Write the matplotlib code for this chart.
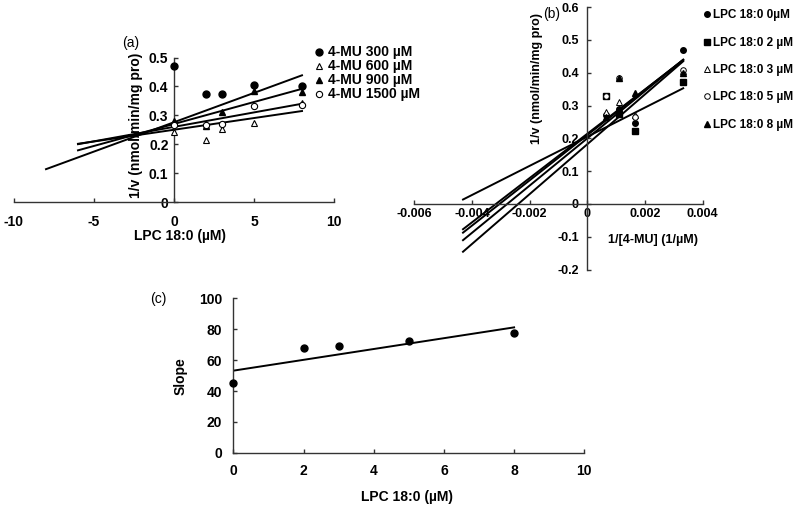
import numpy as np
import matplotlib
matplotlib.use("Agg")
import matplotlib.pyplot as plt
from matplotlib.lines import Line2D
from matplotlib.ticker import FuncFormatter

plt.rcParams['font.family'] = ['Liberation Sans', 'DejaVu Sans']
plt.rcParams['axes.unicode_minus'] = False

# ------------------------------------------------------
# Data
# (a) 1/v vs LPC 18:0 for each 4-MU concentration
lpc = [0, 2, 3, 5, 8]
mu_labels = ['4-MU 300 µM', '4-MU 600 µM', '4-MU 900 µM', '4-MU 1500 µM']
v_mu300 = [0.47, 0.372, 0.374, 0.406, 0.401]
v_mu600 = [0.242, 0.216, 0.254, 0.274, 0.342]
v_mu900 = [0.28, 0.262, 0.311, 0.383, 0.38]
v_mu1500 = [0.265, 0.265, 0.27, 0.332, 0.335]
fit_a_start = [-8, -6, -6, -6]
fit_a_end = [8, 8, 8, 8]
fit_a_slope = [0.0203, 0.0081, 0.0152, 0.0100]
fit_a_icpt = [0.276, 0.250, 0.270, 0.260]

# (b) Lineweaver-Burk, one series per LPC 18:0 concentration
mu_conc = [1500, 900, 600, 300]
lpc_labels = ['LPC 18:0 0µM', 'LPC 18:0 2 µM', 'LPC 18:0 3 µM',
              'LPC 18:0 5 µM', 'LPC 18:0 8 µM']
v_lpc0 = [0.27, 0.29, 0.248, 0.47]
v_lpc2 = [0.33, 0.275, 0.223, 0.373]
v_lpc3 = [0.28, 0.312, 0.271, 0.405]
v_lpc5 = [0.33, 0.385, 0.265, 0.41]
v_lpc8 = [0.266, 0.385, 0.338, 0.40]
fit_b_start = -0.00431
fit_b_end = 0.00333
fit_b_slope = [44.4, 67.5, 69.0, 72.0, 76.0]
fit_b_icpt = [0.205, 0.214, 0.210, 0.200, 0.182]

# (c) slope replot
slope_vals = [45.4, 68.1, 69.4, 72.4, 77.8]
fit_c_slope = 3.51
fit_c_icpt = 53.2

# ------------------------------------------------------
fig = plt.figure(figsize=(8, 5.08), dpi=100)
W, H = 800.0, 508.0


def box(x0, x1, y0, y1):
    # pixel box -> figure fraction
    return [x0 / W, 1 - y1 / H, (x1 - x0) / W, (y1 - y0) / H]


def style(ax, fs=10, padx=8, pady=4):
    for s in ['top', 'right']:
        ax.spines[s].set_visible(False)
    for s in ['left', 'bottom']:
        ax.spines[s].set_color('#333333')
        ax.spines[s].set_linewidth(1.0)
    ax.tick_params(direction='in', length=3, width=1, color='#333333')
    ax.tick_params(axis='x', pad=padx, labelsize=fs)
    ax.tick_params(axis='y', pad=pady, labelsize=fs)
    for t in ax.get_xticklabels() + ax.get_yticklabels():
        t.set_fontweight('bold')
    ax.patch.set_alpha(0)


fmt = FuncFormatter(lambda v, p: '0' if abs(v) < 1e-12 else f'{v:g}')

mk_a = [dict(marker='o', mfc='black', mec='black', ms=5),
        dict(marker='^', mfc='white', mec='black', ms=5, mew=0.8),
        dict(marker='^', mfc='black', mec='black', ms=5),
        dict(marker='o', mfc='white', mec='black', ms=4.5, mew=0.8)]

# ---------------- (a)
ax1 = fig.add_axes(box(14, 334, 57.5, 202))
ax1.set_xlim(-10, 10)
ax1.set_ylim(0, 0.5)
ax1.spines['left'].set_position(('data', 0))
ax1.spines['bottom'].set_position(('data', 0))
ax1.set_xticks([-10, -5, 0, 5, 10])
ax1.set_yticks([0, 0.1, 0.2, 0.3, 0.4, 0.5])
ax1.xaxis.set_major_formatter(fmt)
ax1.yaxis.set_major_formatter(fmt)
series_a = [v_mu300, v_mu600, v_mu900, v_mu1500]
for i, ys in enumerate(series_a):
    xf = np.array([fit_a_start[i], fit_a_end[i]])
    ax1.plot(xf, fit_a_icpt[i] + fit_a_slope[i] * xf, color='black', lw=1.4, zorder=2)
for i, ys in enumerate(series_a):
    ax1.plot(lpc, ys, ls='none', zorder=3, clip_on=False, **mk_a[i])
style(ax1, fs=10, padx=9, pady=4)
handles = [Line2D([], [], ls='none', **m) for m in mk_a]
fig.legend(handles, mu_labels, loc='upper left', bbox_to_anchor=(308 / W, 1 - 38.5 / H),
           frameon=False, handlelength=0.6, handletextpad=0.35, labelspacing=0.0,
           borderpad=0, prop=dict(size=10, weight='bold'))
fig.text(131 / W, 1 - 43 / H, '(a)', fontsize=10, ha='center', va='center')
fig.text(136 / W, 1 - 125 / H, '1/v (nmol/min/mg pro)', rotation=90, fontsize=10,
         fontweight='bold', ha='center', va='center')
fig.text(180 / W, 1 - 236 / H, 'LPC 18:0 (µM)', fontsize=10, fontweight='bold',
         ha='center', va='center')

# ---------------- (b)
mk_b = [dict(marker='o', mfc='black', mec='black', ms=4),
        dict(marker='s', mfc='black', mec='black', ms=4),
        dict(marker='^', mfc='white', mec='black', ms=4.5, mew=0.7),
        dict(marker='o', mfc='white', mec='black', ms=4, mew=0.7),
        dict(marker='^', mfc='black', mec='black', ms=4.5)]
ax2 = fig.add_axes(box(414.3, 702.5, 7.2, 269.6))
ax2.set_xlim(-0.006, 0.004)
ax2.set_ylim(-0.2, 0.6)
ax2.spines['left'].set_position(('data', 0))
ax2.spines['bottom'].set_position(('data', 0))
ax2.set_xticks([-0.006, -0.004, -0.002, 0, 0.002, 0.004])
ax2.set_yticks(np.round(np.arange(-0.2, 0.61, 0.1), 1))
ax2.xaxis.set_major_formatter(fmt)
ax2.yaxis.set_major_formatter(fmt)
inv_mu = 1.0 / np.array(mu_conc)
series_b = [v_lpc0, v_lpc2, v_lpc3, v_lpc5, v_lpc8]
xf = np.array([fit_b_start, fit_b_end])
for i in range(len(series_b)):
    ax2.plot(xf, fit_b_icpt[i] + fit_b_slope[i] * xf, color='black', lw=1.4, zorder=2)
for i, ys in enumerate(series_b):
    ax2.plot(inv_mu, ys, ls='none', zorder=3, **mk_b[i])
style(ax2, fs=9, padx=3, pady=6)
handles = [Line2D([], [], ls='none', **m) for m in mk_b]
fig.legend(handles, lpc_labels, loc='upper left', bbox_to_anchor=(698 / W, 1 - 3.5 / H),
           frameon=False, handlelength=0.5, handletextpad=0.25, labelspacing=1.3,
           borderpad=0, prop=dict(size=8.5, weight='bold'))
fig.text(552 / W, 1 - 14 / H, '(b)', fontsize=10, ha='center', va='center')
fig.text(537 / W, 1 - 78 / H, '1/v (nmol/min/mg pro)', rotation=90, fontsize=9,
         fontweight='bold', ha='center', va='center')
fig.text(653 / W, 1 - 240 / H, '1/[4-MU] (1/µM)', fontsize=9, fontweight='bold',
         ha='center', va='center')

# ---------------- (c)
ax3 = fig.add_axes(box(233.3, 584.3, 298.5, 452.7))
ax3.set_xlim(0, 10)
ax3.set_ylim(0, 100)
ax3.set_xticks([0, 2, 4, 6, 8, 10])
ax3.set_yticks([0, 20, 40, 60, 80, 100])
xc = np.array([lpc[0], lpc[-1]])
ax3.plot(xc, fit_c_icpt + fit_c_slope * xc, color='black', lw=1.4, zorder=2)
ax3.plot(lpc, slope_vals, ls='none', marker='o', mfc='black', mec='black', ms=5,
         zorder=3, clip_on=False)
style(ax3, fs=10, padx=8, pady=8)
fig.text(158 / W, 1 - 299 / H, '(c)', fontsize=10, ha='center', va='center')
fig.text(181 / W, 1 - 376 / H, 'Slope', rotation=90, fontsize=10,
         fontweight='bold', ha='center', va='center')
fig.text(407 / W, 1 - 497 / H, 'LPC 18:0 (µM)', fontsize=10, fontweight='bold',
         ha='center', va='center')

fig.savefig('out.png', dpi=100)
